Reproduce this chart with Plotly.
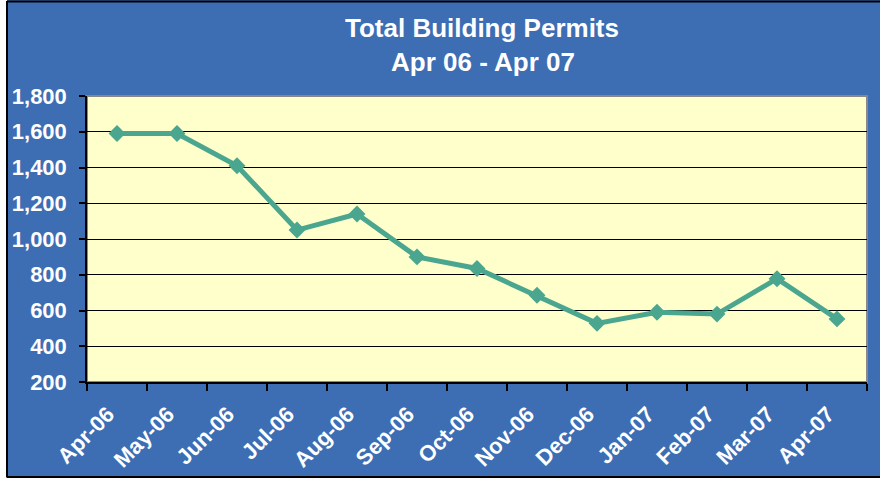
import plotly.graph_objects as go

months = ["Apr-06", "May-06", "Jun-06", "Jul-06", "Aug-06", "Sep-06", "Oct-06",
          "Nov-06", "Dec-06", "Jan-07", "Feb-07", "Mar-07", "Apr-07"]
permits = [1590, 1590, 1410, 1050, 1140, 900, 835, 685, 528, 590, 580, 778, 553]
y_ticks = [200, 400, 600, 800, 1000, 1200, 1400, 1600, 1800]
title_lines = ["Total Building Permits", "Apr 06 - Apr 07"]

BLUE = "#3D6DB2"
TEAL = "#4BA68F"
PLOT_BG = "#FFFFCC"

W, H = 880, 478
L, R, T, B = 87, 13, 96, 96
pw, ph = W - L - R, H - T - B

def px(x):
    return (x - L) / pw

def py(y):
    return (H - B - y) / ph

fig = go.Figure()
fig.add_trace(go.Scatter(
    x=months, y=permits, mode="lines+markers",
    line=dict(color=TEAL, width=5),
    marker=dict(symbol="diamond", size=13, color=TEAL),
    showlegend=False, cliponaxis=False,
))

shapes = [
    dict(type="rect", xref="paper", yref="paper", x0=0, x1=1, y0=0, y1=1,
         line=dict(color="#888888", width=2), layer="below"),
    dict(type="rect", xref="paper", yref="paper", x0=px(0), x1=px(7), y0=py(478), y1=py(0),
         fillcolor="white", line=dict(width=0)),
    dict(type="line", xref="paper", yref="paper", x0=px(7), x1=px(7), y0=py(477.5), y1=py(1),
         line=dict(color="black", width=2)),
    dict(type="line", xref="paper", yref="paper", x0=px(7), x1=px(880), y0=py(1.5), y1=py(1.5),
         line=dict(color="black", width=2)),
    dict(type="line", xref="paper", yref="paper", x0=px(7), x1=px(880), y0=py(477), y1=py(477),
         line=dict(color="black", width=2)),
]

annotations = [
    dict(text="<b>%s</b>" % title_lines[0], xref="paper", yref="paper",
         x=px(482), y=py(28), xanchor="center", yanchor="middle", showarrow=False,
         font=dict(size=26, color="white", family="Liberation Sans, Arial")),
    dict(text="<b>%s</b>" % title_lines[1], xref="paper", yref="paper",
         x=px(483), y=py(62), xanchor="center", yanchor="middle", showarrow=False,
         font=dict(size=26, color="white", family="Liberation Sans, Arial")),
]

fig.update_layout(
    width=W, height=H, autosize=False,
    margin=dict(l=L, r=R, t=T, b=B, pad=0, autoexpand=False),
    paper_bgcolor=BLUE, plot_bgcolor=PLOT_BG,
    font=dict(family="Liberation Sans, Arial", color="white"),
    shapes=shapes, annotations=annotations,
)

fig.update_xaxes(
    type="category", categoryorder="array", categoryarray=months,
    range=[-0.5, len(months) - 0.5], automargin=False,
    showgrid=False, showline=True, linecolor="black", linewidth=1.5,
    ticks="outside", ticklen=7, tickcolor="black", tickwidth=1.5,
    tickson="boundaries", tickangle=-45, ticklabelstandoff=9, ticklabelshift=-9,
    tickfont=dict(size=22, color="white", family="Liberation Sans, Arial", weight="bold"),
    zeroline=False,
)
fig.update_yaxes(
    range=[200, 1800], tickvals=y_ticks, tickformat=",", automargin=False,
    showgrid=True, gridcolor="black", gridwidth=1,
    showline=True, linecolor="black", linewidth=1.5,
    ticks="outside", ticklen=6, tickcolor="black", tickwidth=1.5,
    ticklabelstandoff=8,
    tickfont=dict(size=22, color="white", family="Liberation Sans, Arial", weight="bold"),
    zeroline=False,
)

fig.write_html("out.html", config={"displayModeBar": False},
               post_script="document.body.style.margin='0';")
